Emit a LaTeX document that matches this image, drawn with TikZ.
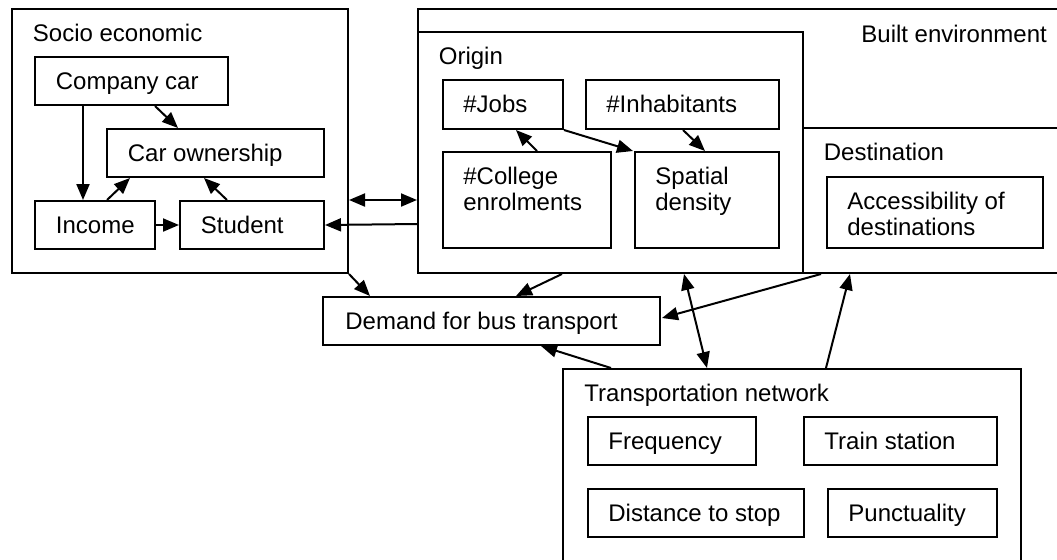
\documentclass[tikz,border=0pt]{standalone}
\usepackage{fontspec}
\setmainfont{Liberation Sans}
\usetikzlibrary{arrows.meta,fit,calc}
\tikzset{
  box/.style={draw, line width=1pt, inner sep=0pt},
  lbl/.style={inner sep=0pt, anchor=base west, align=left, font=\fontsize{12}{13}\selectfont},
  arr/.style={line width=1pt, -{Triangle[length=8pt,width=6.5pt]}},
  darr/.style={line width=1pt, {Triangle[length=8pt,width=6.5pt]}-{Triangle[length=8pt,width=6.5pt]}}
}
\begin{document}
\begin{tikzpicture}[x=0.5pt,y=-0.5pt]
\useasboundingbox (0,0) rectangle (1057,559);
% Socio economic
\node[box, fit={(12,9) (348,273)}] (se) {};
\node[lbl] (se-t) at ($(se.north west)+(21.5,33.5)$) {Socio economic};
\node[box, fit={(35,57) (228,105)}] (cc) {};
\node[lbl] (cc-t) at ($(cc.north west)+(21.5,33.5)$) {Company car};
\node[box, fit={(107,129) (324,177)}] (co) {};
\node[lbl] (co-t) at ($(co.north west)+(21.5,33.5)$) {Car ownership};
\node[box, fit={(35,201) (155,249)}] (inc) {};
\node[lbl] (inc-t) at ($(inc.north west)+(21.5,33.5)$) {Income};
\node[box, fit={(180,201) (324,249)}] (stu) {};
\node[lbl] (stu-t) at ($(stu.north west)+(21.5,33.5)$) {Student};
% Built environment
\node[box, fit={(418,9) (1070,273)}] (be) {};
\node[lbl] (be-t) at (861,42.5) {Built environment};
\node[box, fit={(418,32) (803,273)}] (ori) {};
\node[lbl] (ori-t) at ($(ori.north west)+(21.5,33.5)$) {Origin};
\node[box, fit={(803,128) (1070,273)}] (dest) {};
\node[lbl] (dest-t) at ($(dest.north west)+(21.5,33.5)$) {Destination};
\node[box, fit={(443,80) (563,129)}] (jobs) {};
\node[lbl] (jobs-t) at ($(jobs.north west)+(21,33.5)$) {\#Jobs};
\node[box, fit={(586,80) (779,129)}] (inh) {};
\node[lbl] (inh-t) at ($(inh.north west)+(21,33.5)$) {\#Inhabitants};
\node[box, fit={(443,152) (611,248)}] (col) {};
\node[lbl] (col-t) at ($(col.north west)+(21,59.5)$) {\#College\\enrolments};
\node[box, fit={(635,152) (779,248)}] (spa) {};
\node[lbl] (spa-t) at ($(spa.north west)+(21,59.5)$) {Spatial\\density};
\node[box, fit={(827,177) (1043,248)}] (acc) {};
\node[lbl] (acc-t) at ($(acc.north west)+(21,59)$) {Accessibility of\\destinations};
% Demand
\node[box, fit={(323,297) (660,345)}] (dem) {};
\node[lbl] (dem-t) at ($(dem.north west)+(23,33.5)$) {Demand for bus transport};
% Transportation network
\node[box, fit={(563,369) (1021,580)}] (tn) {};
\node[lbl] (tn-t) at ($(tn.north west)+(22,33.5)$) {Transportation network};
\node[box, fit={(588,417) (756,465)}] (freq) {};
\node[lbl] (freq-t) at ($(freq.north west)+(21,33.5)$) {Frequency};
\node[box, fit={(804,417) (997,465)}] (train) {};
\node[lbl] (train-t) at ($(train.north west)+(21,33.5)$) {Train station};
\node[box, fit={(588,489) (804,537)}] (dist) {};
\node[lbl] (dist-t) at ($(dist.north west)+(21,33.5)$) {Distance to stop};
\node[box, fit={(828,489) (997,537)}] (punc) {};
\node[lbl] (punc-t) at ($(punc.north west)+(21,33.5)$) {Punctuality};
% connectors in socio economic
\draw[arr] ($(cc.south west)+(49,0)$) -- ($(inc.north west)+(49,0)$);
\draw[arr] ($(cc.south west)+(121,0)$) -- ($(co.north west)+(72,0)$);
\draw[arr] ($(inc.north west)+(73,0)$) -- ($(co.south west)+(24,0)$);
\draw[arr] ($(stu.north west)+(48,0)$) -- ($(co.south west)+(98,0)$);
\draw[arr] (inc.east) -- (stu.west);
% between groups
\draw[darr] ($(se.north east)+(0,192)$) -- ($(ori.north west)+(0,169)$);
\draw[arr] ($(ori.north west)+(0,193)$) -- (stu.east);
\draw[arr] (se.south east) -- ($(dem.north west)+(48,0)$);
% origin internals
\draw[arr] ($(col.north west)+(95,0)$) -- ($(jobs.south west)+(74,0)$);
\draw[arr] (jobs.south east) -- ($(spa.north west)+(-1,0)$);
\draw[arr] ($(inh.south west)+(98,0)$) -- ($(spa.north west)+(71,0)$);
% lower connectors
\draw[arr] ($(ori.south west)+(145,0)$) -- ($(dem.north west)+(194,0)$);
\draw[darr] ($(ori.south west)+(267,0)$) -- ($(tn.north west)+(145,0)$);
\draw[arr] ($(dest.south west)+(19,0)$) -- ($(dem.north east)+(1,22)$);
\draw[arr] ($(tn.north west)+(264,0)$) -- ($(dest.south west)+(48,0)$);
\draw[arr] ($(tn.north west)+(49,0)$) -- ($(dem.south west)+(219,0)$);
\end{tikzpicture}
\end{document}
